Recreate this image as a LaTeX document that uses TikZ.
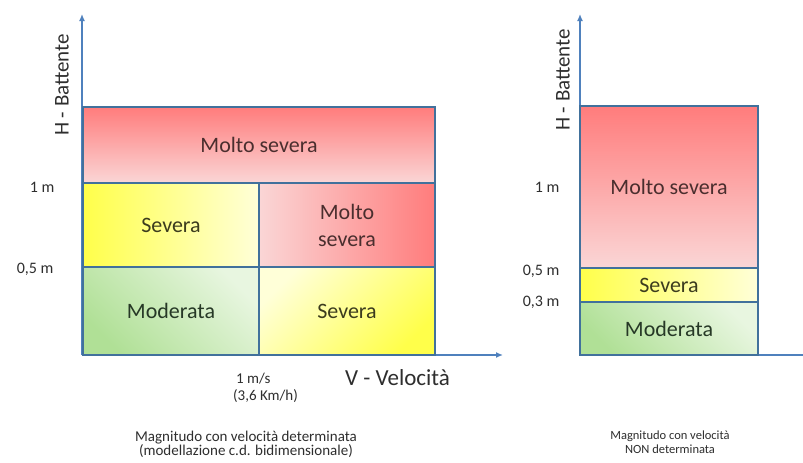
\documentclass[tikz,border=0pt]{standalone}
\usepackage{fontspec}
\setmainfont{Carlito}
\usetikzlibrary{arrows.meta,positioning}
\usepackage{xcolor}
\definecolor{axisblue}{HTML}{4F81BD}
\definecolor{gridblue}{HTML}{41719C}
\definecolor{redtop}{HTML}{FF7C7C}
\definecolor{redpale}{HTML}{FAD6D6}
\definecolor{yellowfull}{HTML}{FFFF4A}
\definecolor{yellowpale}{HTML}{FFFFD8}
\definecolor{greenfull}{HTML}{B0E096}
\definecolor{greenpale}{HTML}{E8F6E0}
\definecolor{inkred}{HTML}{4A2E2E}
\definecolor{inkolive}{HTML}{3C3C1E}
\definecolor{inkgreen}{HTML}{263826}
\definecolor{ink}{HTML}{2E2E2E}
\tikzset{
  cell/.style={draw=gridblue,line width=2.6pt,outer sep=0pt,inner sep=0pt,align=center,font=\fontsize{22}{27}\selectfont},
  high/.style={cell,text=inkred},
  mid/.style={cell,text=inkolive},
  low/.style={cell,text=inkgreen},
  axisline/.style={draw=axisblue,line width=2pt},
  axisarrow/.style={axisline,-{Latex[length=7pt,width=6pt]}},
  tick/.style={anchor=east,text=ink,font=\fontsize{16}{18}\selectfont},
  axislabel/.style={text=ink,font=\fontsize{21}{24}\selectfont},
  caption/.style={text=ink,align=center}
}
\begin{document}
\begin{tikzpicture}[x=1pt,y=-1pt]
\useasboundingbox[fill=white] (0,0) rectangle (803,463);

% axes
\coordinate (o1) at (82,355);
\coordinate (ytop1) at (82,14);
\coordinate (xend1) at (503,355);
\coordinate (o2) at (580,355);
\coordinate (ytop2) at (580,14);
\coordinate (xend2) at (803,355);
\draw[axisarrow] (o1) -- (ytop1);
\draw[axisarrow] (o1) -- (xend1);
\draw[axisarrow] (o2) -- (ytop2);
\draw[axisline] (o2) -- (xend2);

% velocita determinata
\node[high,top color=redtop,bottom color=redpale,minimum width=352pt,minimum height=76pt,anchor=north west] (mstop) at (83,107) {Molto severa};
\node[mid,left color=yellowfull,right color=yellowpale,minimum width=176pt,minimum height=84pt,below=0pt of mstop.south west,anchor=north west] (sevleft) {Severa};
\node[high,left color=redpale,right color=redtop,minimum width=176pt,minimum height=84pt,right=0pt of sevleft.north east,anchor=north west] (msright) {Molto\\severa};
\node[low,left color=greenfull,right color=greenpale,shading angle=135,minimum width=176pt,minimum height=88pt,below=0pt of sevleft.south west,anchor=north west] (modleft) {Moderata};
\node[mid,left color=yellowpale,right color=yellowfull,shading angle=45,minimum width=176pt,minimum height=88pt,below=0pt of msright.south west,anchor=north west] (sevright) {Severa};

% velocita non determinata
\node[high,top color=redtop,bottom color=redpale,minimum width=178pt,minimum height=162pt,anchor=north west] (msnd) at (580,106) {Molto severa};
\node[mid,left color=yellowfull,right color=yellowpale,minimum width=178pt,minimum height=34pt,below=0pt of msnd.south west,anchor=north west] (sevnd) {Severa};
\node[low,left color=greenfull,right color=greenpale,shading angle=135,minimum width=178pt,minimum height=53pt,below=0pt of sevnd.south west,anchor=north west] (modnd) {Moderata};

% etichette
\node[axislabel,rotate=90] (hleft) at (62,85) {H - Battente};
\node[axislabel,rotate=90] (hright) at (563,80) {H - Battente};
\node[tick] (t1left) at (58,187) {1 m};
\node[tick] (t05left) at (57,269) {0,5 m};
\node[tick] (t1right) at (563,187) {1 m};
\node[tick] (t05right) at (563,271) {0,5 m};
\node[tick] (t03right) at (563,302) {0,3 m};
\node[text=ink,align=left,anchor=north west,inner sep=0pt,font=\fontsize{15}{17}\selectfont] (vsoglia) at (233,373) {\hspace{3pt}1 m/s\\(3,6 Km/h)};
\node[axislabel,anchor=west,inner sep=0pt,font=\fontsize{23}{26}\selectfont] (vlabel) at (345,378) {V - Velocità};
\node[caption,font=\fontsize{15}{14}\selectfont] (capleft) at (246,444) {Magnitudo con velocità determinata\\(modellazione c.d. bidimensionale)};
\node[caption,font=\fontsize{12.5}{14}\selectfont] (capright) at (670,442) {Magnitudo con velocità\\NON determinata};
\end{tikzpicture}
\end{document}
